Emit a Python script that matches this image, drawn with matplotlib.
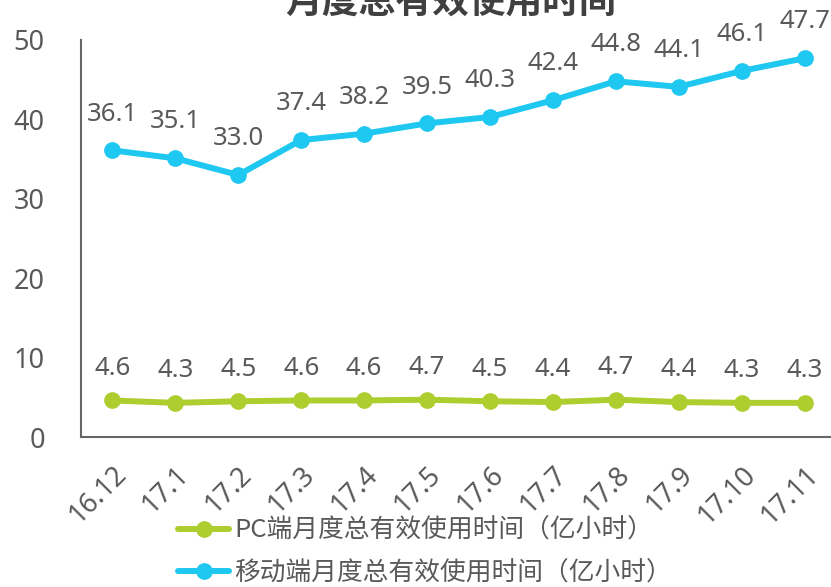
import matplotlib
matplotlib.use("Agg")
import matplotlib.pyplot as plt

plt.rcParams['font.family'] = ['Noto Sans CJK SC', 'DejaVu Sans']

categories = ["16.12", "17.1", "17.2", "17.3", "17.4", "17.5", "17.6", "17.7", "17.8", "17.9", "17.10", "17.11"]
pc_values = [4.6, 4.3, 4.5, 4.6, 4.6, 4.7, 4.5, 4.4, 4.7, 4.4, 4.3, 4.3]
mobile_values = [36.1, 35.1, 33.0, 37.4, 38.2, 39.5, 40.3, 42.4, 44.8, 44.1, 46.1, 47.7]
pc_label = "PC端月度总有效使用时间（亿小时）"
mobile_label = "移动端月度总有效使用时间（亿小时）"
title = "月度总有效使用时间"

green = "#AECD2E"
blue = "#1EC8F0"
text_color = "#595959"
num_font = 'Noto Sans'

fig = plt.figure(figsize=(8.31, 5.87), dpi=100)
ax = fig.add_axes([81 / 831, 150 / 587, (836 - 81) / 831, (437 - 40) / 587])

x = list(range(len(categories)))
ax.plot(x, pc_values, color=green, lw=4.3, marker='o', ms=11, label=pc_label, solid_capstyle='round')
ax.plot(x, mobile_values, color=blue, lw=4.3, marker='o', ms=11, label=mobile_label, solid_capstyle='round')

for xi, v in zip(x, pc_values):
    ax.annotate(f"{v:.1f}", (xi, v), xytext=(0, 18.5), textcoords='offset points',
                ha='center', va='baseline', fontsize=18.5, color=text_color, family=num_font)
for xi, v in zip(x, mobile_values):
    ax.annotate(f"{v:.1f}", (xi, v), xytext=(0, 21.5), textcoords='offset points',
                ha='center', va='baseline', fontsize=18.5, color=text_color, family=num_font,
                annotation_clip=False)

ax.set_xlim(-0.5, len(categories) - 0.5)
ax.set_ylim(0, 50)
ax.set_yticks([0, 10, 20, 30, 40, 50])
ax.set_xticks(x)
ax.set_xticklabels(categories, rotation=45, ha='right', rotation_mode='anchor')
for lbl in ax.get_xticklabels() + ax.get_yticklabels():
    lbl.set_fontsize(19.5)
    lbl.set_color(text_color)
    lbl.set_family(num_font)
ax.tick_params(axis='both', length=0)
ax.tick_params(axis='y', pad=26)
ax.tick_params(axis='x', pad=17)
for s in ['top', 'right']:
    ax.spines[s].set_visible(False)
for s in ['left', 'bottom']:
    ax.spines[s].set_color("#666666")
    ax.spines[s].set_linewidth(1.5)

leg = fig.legend(loc='center left', bbox_to_anchor=(178 / 831, 1 - 552 / 587), frameon=False,
                 fontsize=18.5, labelcolor=text_color, handlelength=2.0, handletextpad=0.2,
                 labelspacing=0.65, borderaxespad=0, borderpad=0)

fig.text(451 / 831, 1 - 3 / 587, title, ha='center', va='center', fontsize=26.5,
         fontweight='bold', color="#404040")

fig.savefig("out.png", dpi=100)
